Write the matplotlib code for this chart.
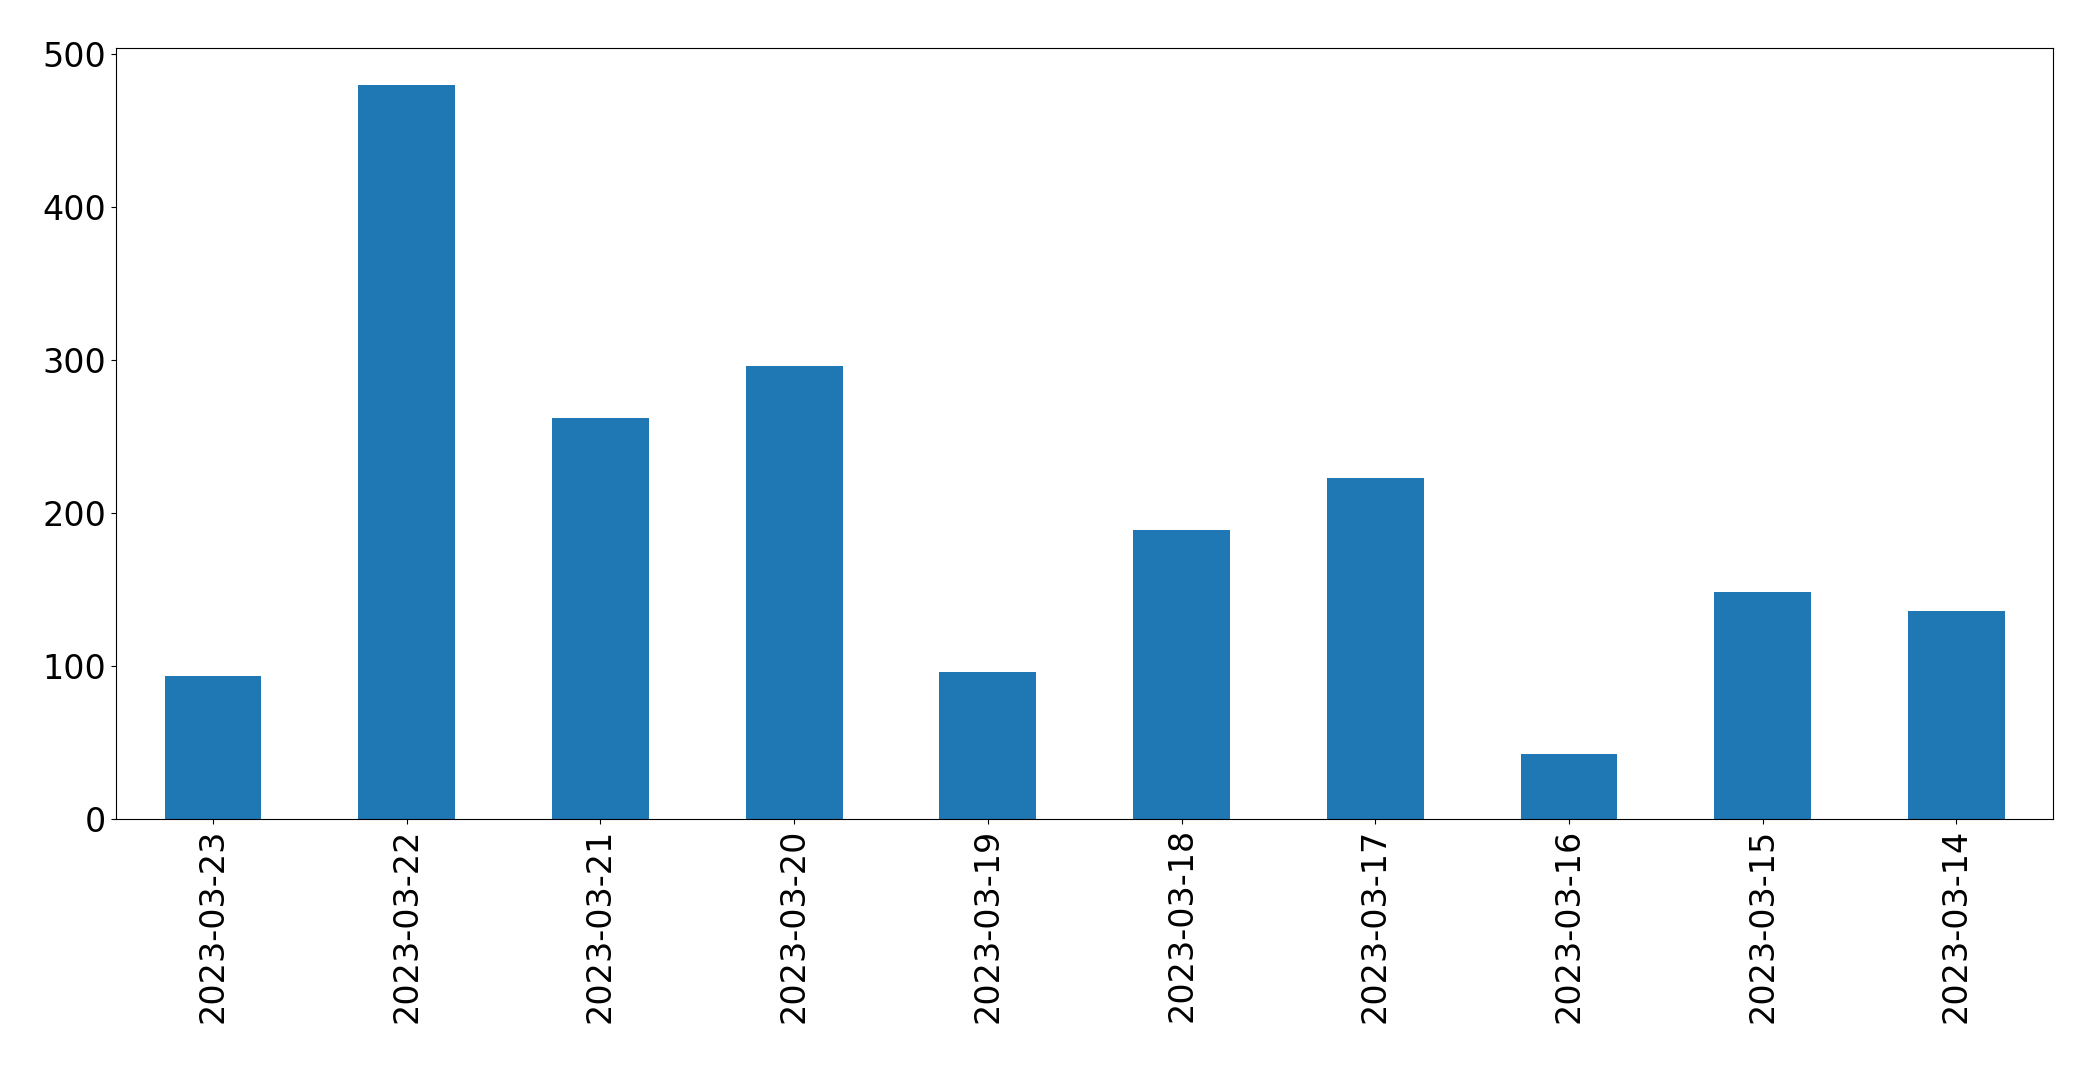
import matplotlib
matplotlib.use("Agg")
import matplotlib.pyplot as plt
import numpy as np

dates = ["2023-03-23", "2023-03-22", "2023-03-21", "2023-03-20", "2023-03-19",
         "2023-03-18", "2023-03-17", "2023-03-16", "2023-03-15", "2023-03-14"]
counts = [93, 480, 262, 296, 96, 189, 223, 42, 148, 136]

fig = plt.figure(figsize=(20.93, 10.70), dpi=100)
ax = fig.add_axes([0.0555, 0.235, 0.9255, 0.72])
x = np.arange(len(dates))
ax.bar(x, counts, width=0.5, color="#1f77b4")
ax.set_xlim(-0.5, len(dates) - 0.5)
ax.set_xticks(x)
ax.set_xticklabels(dates, rotation=90)
ax.set_yticks([0, 100, 200, 300, 400, 500])
ax.tick_params(labelsize=24)
fig.savefig("out.png", dpi=100)
